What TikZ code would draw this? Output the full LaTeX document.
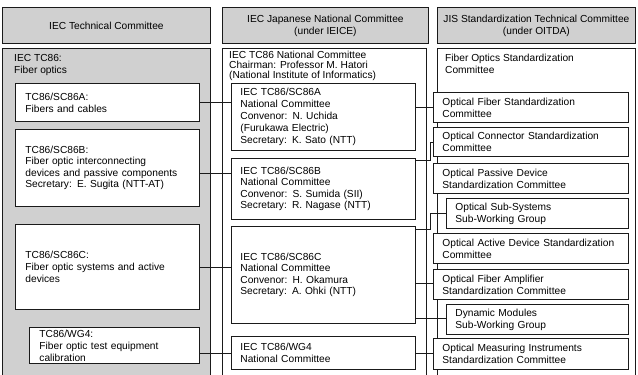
\documentclass[tikz,border=0pt]{standalone}
\usepackage{fontspec}
\setmainfont{Liberation Sans}
\definecolor{panelgray}{HTML}{D0D0D0}
\definecolor{ln}{HTML}{1A1A1A}
\begin{document}
\begin{tikzpicture}[x=1pt,y=-1pt,
  every node/.style={font=\fontsize{10.2}{12}\selectfont, text=black},
  hdr/.style={draw=ln, fill=panelgray, line width=0.85pt, align=center, inner sep=0pt, anchor=north west},
  bx/.style={draw=ln, fill=white, line width=0.85pt, align=left, anchor=north west, inner xsep=9pt, inner ysep=0pt},
  ttl/.style={align=left, anchor=north west, inner sep=0pt},
  con/.style={draw=ln, line width=0.85pt},
  pnl/.style={draw=ln, line width=0.85pt}]
\clip (0,0) rectangle (638,375);
\fill[white] (0,0) rectangle (638,375);

% headers
\node[hdr, minimum width=208pt, minimum height=36pt] (hL) at (2,7) {IEC Technical Committee};
\node[hdr, minimum width=206pt, minimum height=36pt] (hM) at (222,7) {IEC Japanese National Committee\\(under IEICE)};
\node[hdr, minimum width=198pt, minimum height=36pt] (hR) at (437,7) {JIS Standardization Technical Committee\\(under OITDA)};

% panels
\draw[pnl, fill=panelgray] (2,48) rectangle (210,390);
\draw[pnl, fill=white] (222,48) rectangle (426,390);
\draw[pnl, fill=white] (437,48) rectangle (635,390);

% panel titles
\node[ttl] (tL) at (14,54) {IEC TC86:\\Fiber optics};
\node[ttl, font=\fontsize{10.2}{9.8}\selectfont] (tM) at (229,51) {IEC TC86 National Committee\\Chairman: Professor M. Hatori\\(National Institute of Informatics)};
\node[ttl] (tR) at (445,54) {Fiber Optics Standardization\\Committee};

% left boxes
\node[bx, inner xsep=10pt, text width=164pt, minimum height=38pt] (lA) at (15,83) {TC86/SC86A:\\Fibers and cables};
\node[bx, inner xsep=10pt, text width=164pt, minimum height=77pt, font=\fontsize{10.2}{11.2}\selectfont] (lB) at (15,129) {TC86/SC86B:\\Fiber optic interconnecting\\devices and passive components\\Secretary: E. Sugita (NTT-AT)};
\node[bx, inner xsep=10pt, text width=164pt, minimum height=85pt] (lC) at (15,224) {TC86/SC86C:\\Fiber optic systems and active\\devices};
\node[bx, inner xsep=10pt, text width=150pt, minimum height=36pt] (lW) at (29,327) {TC86/WG4:\\Fiber optic test equipment\\calibration};

% middle boxes
\node[bx, text width=166pt, minimum height=67pt, font=\fontsize{10.2}{11.8}\selectfont] (mA) at (231,83) {IEC TC86/SC86A\\National Committee\\Convenor: N. Uchida\\(Furukawa Electric)\\Secretary: K. Sato (NTT)};
\node[bx, text width=166pt, minimum height=61pt, font=\fontsize{10.2}{11.6}\selectfont] (mB) at (231,158) {IEC TC86/SC86B\\National Committee\\Convenor: S. Sumida (SII)\\Secretary: R. Nagase (NTT)};
\node[bx, text width=166pt, minimum height=97pt, font=\fontsize{10.2}{11.6}\selectfont] (mC) at (231,226) {IEC TC86/SC86C\\National Committee\\Convenor: H. Okamura\\Secretary: A. Ohki (NTT)};
\node[bx, text width=166pt, minimum height=33pt] (mW) at (231,336) {IEC TC86/WG4\\National Committee};

% right boxes
\node[bx, text width=177pt, minimum height=30pt] (r1) at (433,92) {Optical Fiber Standardization\\Committee};
\node[bx, text width=177pt, minimum height=29pt] (r2) at (433,127) {Optical Connector Standardization\\Committee};
\node[bx, text width=177pt, minimum height=30pt] (r3) at (433,163) {Optical Passive Device\\Standardization Committee};
\node[bx, text width=164pt, minimum height=30pt] (r4) at (446,198) {Optical Sub-Systems\\Sub-Working Group};
\node[bx, text width=177pt, minimum height=30pt] (r5) at (433,233) {Optical Active Device Standardization\\Committee};
\node[bx, text width=177pt, minimum height=30pt] (r6) at (433,269) {Optical Fiber Amplifier\\Standardization Committee};
\node[bx, text width=164pt, minimum height=30pt] (r7) at (446,304) {Dynamic Modules\\Sub-Working Group};
\node[bx, text width=177pt, minimum height=31pt] (r8) at (433,338) {Optical Measuring Instruments\\Standardization Committee};

% connectors left -> middle
\draw[con] (lA.east |- 0,102) -- (mA.west |- 0,102);
\draw[con] (lB.east |- 0,173) -- (mB.west |- 0,173);
\draw[con] (lC.east |- 0,267) -- (mC.west |- 0,267);
\draw[con] (lW.east |- 0,353) -- (mW.west |- 0,353);

% connectors middle -> right
\draw[con] (mA.east |- 0,107) -- (r1.west |- 0,107);
\draw[con] (mB.east |- 0,160) -| ([xshift=-3pt]r2.west) -- (r2.west);
\draw[con] (mC.east |- 0,229) -| ([xshift=-16pt]r4.west) -- (r4.west);
\draw[con] (mC.east |- 0,283) -- (r6.west |- 0,283);
\draw[con] (mC.east |- 0,318) -- (r7.west |- 0,318);
\draw[con] (mW.east |- 0,353) -- (r8.west |- 0,353);
\end{tikzpicture}
\end{document}
